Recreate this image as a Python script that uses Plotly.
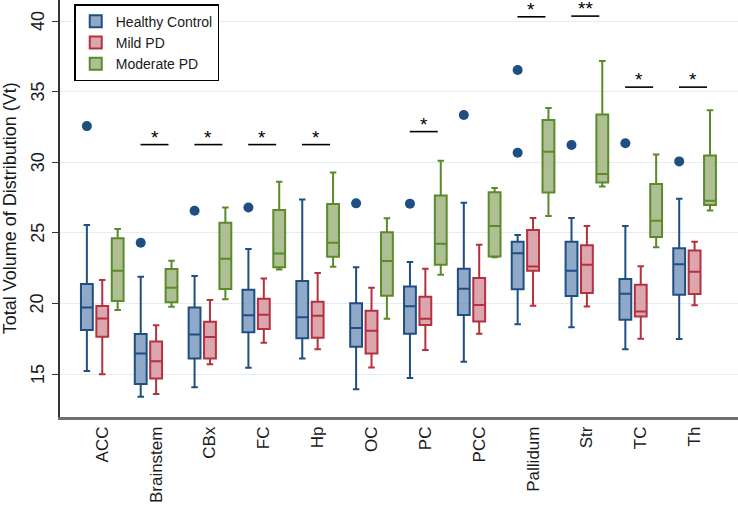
import plotly.graph_objects as go

regions = ["ACC", "Brainstem", "CBx", "FC", "Hp", "OC", "PC", "PCC",
           "Pallidum", "Str", "TC", "Th"]

# Healthy Control: lower fence, Q1, median, Q3, upper fence
hc_low = [15.21, 13.39, 14.06, 15.45, 16.11, 13.92, 14.73, 15.87, 18.53, 18.31, 16.75, 17.49]
hc_q1 = [18.12, 14.29, 16.11, 17.97, 17.53, 16.93, 17.86, 19.19, 21.00, 20.52, 18.84, 20.62]
hc_med = [19.72, 16.46, 17.81, 19.16, 19.02, 18.26, 19.81, 21.04, 23.56, 22.32, 20.69, 22.78]
hc_q3 = [21.37, 17.83, 19.72, 20.98, 21.59, 20.01, 21.21, 22.46, 24.37, 24.37, 21.73, 23.91]
hc_high = [25.55, 21.89, 21.94, 23.85, 27.37, 22.56, 22.94, 27.14, 24.84, 26.05, 25.48, 27.42]
hc_out_region = [0, 1, 2, 3, 5, 6, 7, 8, 8, 9, 10, 11]
hc_out_value = [32.56, 24.30, 26.57, 26.80, 27.09, 27.07, 33.35, 36.53, 30.67, 31.22, 31.34, 30.06]

# Mild PD
mild_low = [14.98, 13.58, 15.69, 17.22, 16.75, 15.47, 16.70, 17.86, 19.83, 19.79, 17.51, 19.88]
mild_q1 = [17.64, 14.69, 16.11, 18.19, 17.57, 16.46, 18.48, 18.72, 22.32, 20.74, 19.07, 20.67]
mild_med = [18.94, 15.90, 17.62, 19.20, 19.13, 18.07, 18.91, 19.90, 22.61, 22.75, 19.43, 22.25]
mild_q3 = [19.82, 17.31, 18.71, 20.33, 20.12, 19.49, 20.47, 21.80, 25.20, 24.13, 21.32, 23.75]
mild_high = [21.66, 18.45, 20.24, 21.76, 22.15, 21.12, 22.46, 24.15, 26.05, 25.48, 22.63, 24.37]

# Moderate PD
mod_low = [19.53, 19.77, 20.29, 22.40, 22.60, 18.92, 22.04, 23.27, 26.19, 28.28, 23.98, 26.59]
mod_q1 = [20.18, 20.08, 21.02, 22.56, 23.31, 20.54, 22.75, 23.32, 27.85, 28.56, 24.70, 26.97]
mod_med = [22.32, 21.12, 23.17, 23.54, 24.30, 23.00, 24.22, 25.48, 30.74, 29.16, 25.86, 27.28]
mod_q3 = [24.61, 22.44, 25.72, 26.61, 27.04, 25.04, 27.64, 27.87, 33.00, 33.38, 28.46, 30.48]
mod_high = [25.27, 23.03, 26.80, 28.62, 29.28, 26.03, 30.10, 28.18, 33.85, 37.17, 30.55, 33.68]

# Significance markers
sig_region = [1, 2, 3, 4, 6, 8, 9, 10, 11]
sig_y = [31.25, 31.25, 31.25, 31.25, 32.17, 40.30, 40.35, 35.32, 35.32]
sig_label = ["*", "*", "*", "*", "*", "*", "**", "*", "*"]

y_ticks = [15, 20, 25, 30, 35, 40]
y_title = "Total Volume of Distribution (Vt)"

OFF = 0.286
idx = list(range(len(regions)))
FONT = "Arial, Liberation Sans, sans-serif"
TXT = "#1a1a1a"

groups = [
    ("Healthy Control", -OFF, hc_low, hc_q1, hc_med, hc_q3, hc_high, "#1f4f82", "rgba(118,148,186,0.8)"),
    ("Mild PD", 0.0, mild_low, mild_q1, mild_med, mild_q3, mild_high, "#b2323f", "rgba(212,142,152,0.8)"),
    ("Moderate PD", OFF, mod_low, mod_q1, mod_med, mod_q3, mod_high, "#5b8a2b", "rgba(160,180,128,0.85)"),
]

fig = go.Figure()
for name, off, lo, q1, med, q3, hi, lc, fc in groups:
    fig.add_trace(go.Box(
        name=name,
        x=[i + off for i in idx],
        lowerfence=lo, q1=q1, median=med, q3=q3, upperfence=hi,
        width=0.22, whiskerwidth=0.55,
        line=dict(color=lc, width=2), fillcolor=fc,
        boxpoints=False, hoverinfo="skip",
    ))

fig.add_trace(go.Scatter(
    x=[r - OFF for r in hc_out_region], y=hc_out_value, mode="markers",
    marker=dict(color="#1f4f82", size=10), showlegend=False, hoverinfo="skip",
))

for r, yv, lab in zip(sig_region, sig_y, sig_label):
    fig.add_shape(type="line", x0=r - 0.29, x1=r + 0.23, y0=yv, y1=yv,
                  line=dict(color="black", width=1.6), xref="x", yref="y")
    fig.add_annotation(x=r - 0.03, y=yv, text=lab, showarrow=False,
                       yanchor="bottom", yshift=-5,
                       font=dict(size=19, color="black", family=FONT))

# rotated y tick labels and y title
for t in y_ticks:
    fig.add_annotation(x=-0.0325, y=t, xref="paper", yref="y", text=str(t),
                       textangle=-90, showarrow=False, xanchor="center", yanchor="middle",
                       font=dict(size=18, color=TXT, family=FONT))
fig.add_annotation(x=-0.074, y=0.5, xref="paper", yref="paper", text=y_title,
                   textangle=-90, showarrow=False, xanchor="center", yanchor="middle",
                   font=dict(size=18, color=TXT, family=FONT))

fig.update_layout(
    width=738, height=511,
    margin=dict(l=60, r=0, t=0, b=94),
    paper_bgcolor="white", plot_bgcolor="white",
    font=dict(family=FONT, size=18, color=TXT),
    boxmode="overlay",
    showlegend=True,
    legend=dict(x=0.021, y=0.99, xanchor="left", yanchor="top",
                bgcolor="white", bordercolor="black", borderwidth=1.5,
                font=dict(size=14, color=TXT), tracegroupgap=0,
                itemsizing="constant"),
)
fig.update_xaxes(
    range=[-0.785, 11.806], tickmode="array", tickvals=idx, ticktext=regions,
    tickangle=-90, showgrid=False, zeroline=False, ticks="", automargin=False,
    showline=True, linecolor="#707070", linewidth=2.5,
    tickfont=dict(size=17, color=TXT),
)
fig.update_yaxes(
    range=[11.96, 41.49], tickvals=y_ticks, showticklabels=False, automargin=False,
    showgrid=True, gridcolor="#e3ecf3", gridwidth=1, zeroline=False,
    ticks="outside", ticklen=6, tickcolor="#333333", tickwidth=1.2,
    showline=True, linecolor="#333333", linewidth=1.5,
)

fig.write_html("out.html", config={"displayModeBar": False},
               post_script="document.body.style.margin='0';")
